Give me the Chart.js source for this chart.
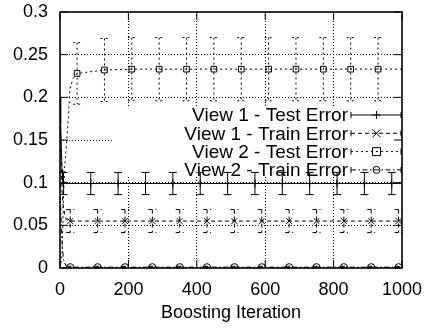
<!DOCTYPE html>
<html>
<head>
<meta charset="utf-8">
<script src="https://cdn.jsdelivr.net/npm/chart.js@4"></script>
<style>
html,body{margin:0;padding:0;background:#fff;}
#wrap{width:433px;height:330px;position:relative;}
</style>
</head>
<body>
<div id="wrap"><canvas id="c"></canvas></div>
<script>
// ---- data ----
const xTickLabels = ['0', '200', '400', '600', '800', '1000'];
const yTickLabels = ['0', '0.05', '0.1', '0.15', '0.2', '0.25', '0.3'];
const xAxisTitle = 'Boosting Iteration';
const seriesNames = ['View 1 - Test Error', 'View 1 - Train Error', 'View 2 - Test Error', 'View 2 - Train Error'];

// early iterations (curve only, no marker)
const v1TestStartIter = [0, 2, 4, 6, 8];
const v1TestStartVal  = [0.2, 0.17, 0.14, 0.115, 0.102];
const v1TrainStartIter = [0, 3, 6, 10, 18];
const v1TrainStartVal  = [0.19, 0.13, 0.09, 0.07, 0.057];
const v2TestStartIter = [0, 6, 10, 14, 20, 25, 29, 38];
const v2TestStartVal  = [0.0, 0.015, 0.08, 0.12, 0.15, 0.18, 0.21, 0.222];
const v2TrainStartIter = [0, 3, 6, 10, 18];
const v2TrainStartVal  = [0.1, 0.06, 0.03, 0.01, 0.002];

// marked iterations with mean and error-bar half-width
const v1TestIter = [10, 90, 170, 250, 330, 410, 490, 570, 650, 730, 810, 890, 970];
const v1TestVal  = [0.099, 0.099, 0.099, 0.099, 0.099, 0.099, 0.099, 0.099, 0.099, 0.099, 0.099, 0.099, 0.099];
const v1TestErr  = [0.013, 0.013, 0.013, 0.013, 0.013, 0.013, 0.013, 0.013, 0.013, 0.013, 0.013, 0.013, 0.013];

const v1TrainIter = [30, 110, 190, 270, 350, 430, 510, 590, 670, 750, 830, 910, 990];
const v1TrainVal  = [0.055, 0.055, 0.055, 0.055, 0.055, 0.055, 0.055, 0.055, 0.055, 0.055, 0.055, 0.055, 0.055];
const v1TrainErr  = [0.0135, 0.0135, 0.0135, 0.0135, 0.0135, 0.0135, 0.0135, 0.0135, 0.0135, 0.0135, 0.0135, 0.0135, 0.0135];

const v2TestIter = [50, 130, 210, 290, 370, 450, 530, 610, 690, 770, 850, 930];
const v2TestVal  = [0.228, 0.232, 0.233, 0.233, 0.233, 0.233, 0.233, 0.233, 0.233, 0.233, 0.233, 0.233];
const v2TestErr  = [0.036, 0.037, 0.037, 0.037, 0.037, 0.037, 0.037, 0.037, 0.037, 0.037, 0.037, 0.037];

const v2TrainIter = [30, 110, 190, 270, 350, 430, 510, 590, 670, 750, 830, 910, 990];
const v2TrainVal  = [0.001, 0.001, 0.001, 0.001, 0.001, 0.001, 0.001, 0.001, 0.001, 0.001, 0.001, 0.001, 0.001];
const v2TrainErr  = [0.001, 0.001, 0.001, 0.001, 0.001, 0.001, 0.001, 0.001, 0.001, 0.001, 0.001, 0.001, 0.001];

const lastIter = 1000;

// ---- build ----
const FONT = '"Liberation Sans", Arial, Helvetica, sans-serif';
function buildData(sIt, sV, mIt, mV) {
  const pts = [];
  sIt.forEach((x, i) => pts.push({x: x, y: sV[i], m: false}));
  mIt.forEach((x, i) => pts.push({x: x, y: mV[i], m: true}));
  pts.push({x: lastIter, y: mV[mV.length - 1], m: false});
  return pts;
}
const series = [
  {name: seriesNames[0], data: buildData(v1TestStartIter, v1TestStartVal, v1TestIter, v1TestVal), it: v1TestIter, v: v1TestVal, e: v1TestErr, dash: [], style: 'cross', r: 4},
  {name: seriesNames[1], data: buildData(v1TrainStartIter, v1TrainStartVal, v1TrainIter, v1TrainVal), it: v1TrainIter, v: v1TrainVal, e: v1TrainErr, dash: [4, 3], style: 'crossRot', r: 4},
  {name: seriesNames[2], data: buildData(v2TestStartIter, v2TestStartVal, v2TestIter, v2TestVal), it: v2TestIter, v: v2TestVal, e: v2TestErr, dash: [2, 3], style: 'rect', r: 4},
  {name: seriesNames[3], data: buildData(v2TrainStartIter, v2TrainStartVal, v2TrainIter, v2TrainVal), it: v2TrainIter, v: v2TrainVal, e: v2TrainErr, dash: [5, 2.5, 1.5, 2.5], style: 'circle', r: 3.5}
];

const datasets = series.map(s => ({
  label: s.name,
  data: s.data,
  borderColor: '#000',
  backgroundColor: 'rgba(0,0,0,0)',
  borderWidth: 1,
  borderDash: s.dash,
  pointStyle: s.style,
  pointRadius: ctx => (ctx.raw && ctx.raw.m) ? s.r : 0,
  pointBorderColor: '#000',
  pointBackgroundColor: 'rgba(0,0,0,0)',
  pointBorderWidth: 1,
  pointHoverRadius: 0,
  tension: 0,
  fill: false
}));

const KEY = {left: 113, top: 106, bottom: 177, textRight: 348, sampleL: 351, rowY0: 115, rowH: 18.3};

function drawMarker(ctx, style, x, y, r) {
  ctx.save();
  ctx.setLineDash([]);
  ctx.strokeStyle = '#000';
  ctx.lineWidth = 1;
  ctx.beginPath();
  if (style === 'cross') {
    ctx.moveTo(x - r, y); ctx.lineTo(x + r, y);
    ctx.moveTo(x, y - r); ctx.lineTo(x, y + r);
  } else if (style === 'crossRot') {
    ctx.moveTo(x - r, y - r); ctx.lineTo(x + r, y + r);
    ctx.moveTo(x - r, y + r); ctx.lineTo(x + r, y - r);
  } else if (style === 'rect') {
    ctx.rect(x - r, y - r, 2 * r, 2 * r);
  } else {
    ctx.arc(x, y, r, 0, Math.PI * 2);
  }
  ctx.stroke();
  ctx.restore();
}

const gnuplotLook = {
  id: 'gnuplotLook',
  beforeDatasetsDraw(chart) {
    const {ctx, chartArea} = chart;
    ctx.save();
    ctx.fillStyle = '#fff';
    ctx.fillRect(KEY.left, KEY.top, chartArea.right - KEY.left, KEY.bottom - KEY.top);
    ctx.restore();
  },
  afterDatasetsDraw(chart) {
    const {ctx, chartArea} = chart;
    const xs = chart.scales.x, ys = chart.scales.y;
    // error bars
    series.forEach(s => {
      ctx.save();
      ctx.strokeStyle = '#000';
      ctx.lineWidth = 1;
      ctx.setLineDash(s.dash);
      s.it.forEach((it, i) => {
        const px = xs.getPixelForValue(it);
        const pTop = ys.getPixelForValue(s.v[i] + s.e[i]);
        const pBot = ys.getPixelForValue(Math.max(0, s.v[i] - s.e[i]));
        ctx.beginPath();
        ctx.moveTo(px, pTop); ctx.lineTo(px, pBot);
        ctx.moveTo(px - 4, pTop); ctx.lineTo(px + 4, pTop);
        ctx.moveTo(px - 4, pBot); ctx.lineTo(px + 4, pBot);
        ctx.stroke();
      });
      ctx.restore();
    });
    // key
    ctx.save();
    ctx.font = '19px ' + FONT;
    ctx.fillStyle = '#000';
    ctx.textAlign = 'right';
    ctx.textBaseline = 'middle';
    series.forEach((s, i) => {
      const y = KEY.rowY0 + i * KEY.rowH;
      ctx.fillText(s.name, KEY.textRight, y + 1);
      const x0 = KEY.sampleL, x1 = chartArea.right;
      ctx.save();
      ctx.strokeStyle = '#000';
      ctx.lineWidth = 1;
      ctx.setLineDash(s.dash);
      ctx.beginPath();
      ctx.moveTo(x0, y); ctx.lineTo(x1, y);
      ctx.stroke();
      ctx.setLineDash([]);
      ctx.beginPath();
      ctx.moveTo(x0, y - 3); ctx.lineTo(x0, y + 3);
      ctx.moveTo(x1 - 1, y - 3); ctx.lineTo(x1 - 1, y + 3);
      ctx.stroke();
      ctx.restore();
      drawMarker(ctx, s.style, (x0 + x1) / 2, y, s.r);
    });
    ctx.restore();
    // border and inward ticks
    ctx.save();
    ctx.strokeStyle = '#000';
    ctx.setLineDash([]);
    ctx.lineWidth = 1;
    ctx.beginPath();
    xs.ticks.forEach(t => {
      const px = xs.getPixelForValue(t.value);
      ctx.moveTo(px, chartArea.bottom); ctx.lineTo(px, chartArea.bottom - 8);
      ctx.moveTo(px, chartArea.top); ctx.lineTo(px, chartArea.top + 8);
    });
    ys.ticks.forEach(t => {
      const py = ys.getPixelForValue(t.value);
      ctx.moveTo(chartArea.left, py); ctx.lineTo(chartArea.left + 8, py);
      ctx.moveTo(chartArea.right, py); ctx.lineTo(chartArea.right - 8, py);
    });
    ctx.stroke();
    ctx.lineWidth = 1.6;
    ctx.strokeRect(chartArea.left, chartArea.top, chartArea.right - chartArea.left, chartArea.bottom - chartArea.top);
    ctx.restore();
  }
};

new Chart(document.getElementById('c'), {
  type: 'line',
  data: {datasets: datasets},
  options: {
    responsive: true,
    maintainAspectRatio: false,
    animation: false,
    events: [],
    layout: {padding: {left: 0, right: 31, top: 12, bottom: 0}},
    plugins: {legend: {display: false}, tooltip: {enabled: false}},
    scales: {
      x: {
        type: 'linear',
        min: 0, max: 1000,
        afterFit: s => { s.height = 62; s.paddingLeft = 0; s.paddingRight = 0; },
        ticks: {
          stepSize: 200,
          color: '#000',
          font: {family: FONT, size: 18},
          padding: 11,
          maxRotation: 0,
          callback: (v, i) => xTickLabels[i]
        },
        grid: {
          color: ctx => (ctx.tick && (ctx.tick.value === 0 || ctx.tick.value === 1000)) ? 'rgba(0,0,0,0)' : '#000',
          lineWidth: 1,
          drawTicks: false
        },
        border: {display: false, dash: [1, 2]},
        title: {display: true, text: xAxisTitle, color: '#000', font: {family: FONT, size: 18}, padding: {top: 0, bottom: 6}}
      },
      y: {
        type: 'linear',
        min: 0, max: 0.3,
        afterFit: s => { s.width = 60; s.paddingTop = 0; s.paddingBottom = 0; },
        ticks: {
          stepSize: 0.05,
          color: '#000',
          font: {family: FONT, size: 18},
          padding: 12,
          callback: (v, i) => yTickLabels[i]
        },
        grid: {
          color: ctx => (ctx.index === 0 || ctx.index === yTickLabels.length - 1) ? 'rgba(0,0,0,0)' : '#000',
          lineWidth: 1,
          drawTicks: false
        },
        border: {display: false, dash: [1, 2]}
      }
    }
  },
  plugins: [gnuplotLook]
});
</script>
</body>
</html>
